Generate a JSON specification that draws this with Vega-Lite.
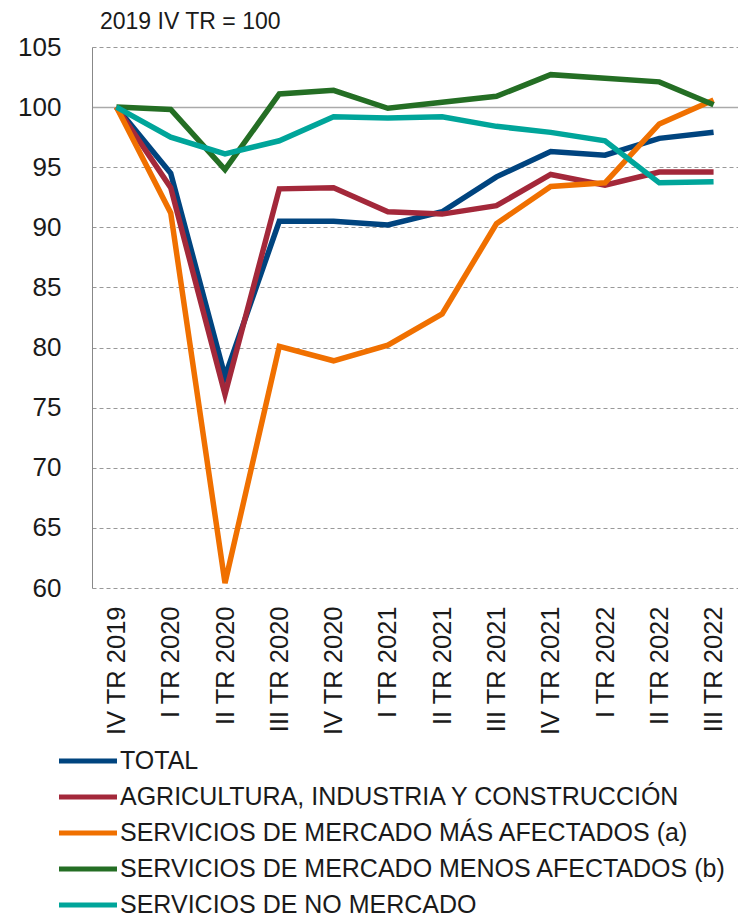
{
  "$schema": "https://vega.github.io/schema/vega-lite/v6.json",
  "autosize": "none",
  "width": 646,
  "height": 541,
  "padding": {"left": 92, "top": 47, "right": 0, "bottom": 327},
  "background": "white",
  "config": {
    "font": "Liberation Sans",
    "view": {"stroke": null}
  },
  "title": {
    "text": "2019 IV TR = 100",
    "anchor": "start",
    "frame": "group",
    "dx": 8,
    "offset": 0,
    "fontSize": 23,
    "fontWeight": "normal",
    "color": "#1a1a1a"
  },
  "data": {
    "values": [
      {"t": "IV TR 2019", "s": "TOTAL", "v": 100},
      {"t": "I TR 2020", "s": "TOTAL", "v": 94.5},
      {"t": "II TR 2020", "s": "TOTAL", "v": 77.6},
      {"t": "III TR 2020", "s": "TOTAL", "v": 90.5},
      {"t": "IV TR 2020", "s": "TOTAL", "v": 90.5},
      {"t": "I TR 2021", "s": "TOTAL", "v": 90.2},
      {"t": "II TR 2021", "s": "TOTAL", "v": 91.3},
      {"t": "III TR 2021", "s": "TOTAL", "v": 94.2},
      {"t": "IV TR 2021", "s": "TOTAL", "v": 96.3},
      {"t": "I TR 2022", "s": "TOTAL", "v": 96.0},
      {"t": "II TR 2022", "s": "TOTAL", "v": 97.4},
      {"t": "III TR 2022", "s": "TOTAL", "v": 97.9},

      {"t": "IV TR 2019", "s": "AGRICULTURA, INDUSTRIA Y CONSTRUCCIÓN", "v": 100},
      {"t": "I TR 2020", "s": "AGRICULTURA, INDUSTRIA Y CONSTRUCCIÓN", "v": 93.3},
      {"t": "II TR 2020", "s": "AGRICULTURA, INDUSTRIA Y CONSTRUCCIÓN", "v": 76.1},
      {"t": "III TR 2020", "s": "AGRICULTURA, INDUSTRIA Y CONSTRUCCIÓN", "v": 93.2},
      {"t": "IV TR 2020", "s": "AGRICULTURA, INDUSTRIA Y CONSTRUCCIÓN", "v": 93.3},
      {"t": "I TR 2021", "s": "AGRICULTURA, INDUSTRIA Y CONSTRUCCIÓN", "v": 91.3},
      {"t": "II TR 2021", "s": "AGRICULTURA, INDUSTRIA Y CONSTRUCCIÓN", "v": 91.1},
      {"t": "III TR 2021", "s": "AGRICULTURA, INDUSTRIA Y CONSTRUCCIÓN", "v": 91.8},
      {"t": "IV TR 2021", "s": "AGRICULTURA, INDUSTRIA Y CONSTRUCCIÓN", "v": 94.4},
      {"t": "I TR 2022", "s": "AGRICULTURA, INDUSTRIA Y CONSTRUCCIÓN", "v": 93.5},
      {"t": "II TR 2022", "s": "AGRICULTURA, INDUSTRIA Y CONSTRUCCIÓN", "v": 94.6},
      {"t": "III TR 2022", "s": "AGRICULTURA, INDUSTRIA Y CONSTRUCCIÓN", "v": 94.6},

      {"t": "IV TR 2019", "s": "SERVICIOS DE MERCADO MÁS AFECTADOS (a)", "v": 100},
      {"t": "I TR 2020", "s": "SERVICIOS DE MERCADO MÁS AFECTADOS (a)", "v": 91.2},
      {"t": "II TR 2020", "s": "SERVICIOS DE MERCADO MÁS AFECTADOS (a)", "v": 60.4},
      {"t": "III TR 2020", "s": "SERVICIOS DE MERCADO MÁS AFECTADOS (a)", "v": 80.1},
      {"t": "IV TR 2020", "s": "SERVICIOS DE MERCADO MÁS AFECTADOS (a)", "v": 78.9},
      {"t": "I TR 2021", "s": "SERVICIOS DE MERCADO MÁS AFECTADOS (a)", "v": 80.2},
      {"t": "II TR 2021", "s": "SERVICIOS DE MERCADO MÁS AFECTADOS (a)", "v": 82.8},
      {"t": "III TR 2021", "s": "SERVICIOS DE MERCADO MÁS AFECTADOS (a)", "v": 90.3},
      {"t": "IV TR 2021", "s": "SERVICIOS DE MERCADO MÁS AFECTADOS (a)", "v": 93.4},
      {"t": "I TR 2022", "s": "SERVICIOS DE MERCADO MÁS AFECTADOS (a)", "v": 93.7},
      {"t": "II TR 2022", "s": "SERVICIOS DE MERCADO MÁS AFECTADOS (a)", "v": 98.6},
      {"t": "III TR 2022", "s": "SERVICIOS DE MERCADO MÁS AFECTADOS (a)", "v": 100.6},

      {"t": "IV TR 2019", "s": "SERVICIOS DE MERCADO MENOS AFECTADOS (b)", "v": 100},
      {"t": "I TR 2020", "s": "SERVICIOS DE MERCADO MENOS AFECTADOS (b)", "v": 99.8},
      {"t": "II TR 2020", "s": "SERVICIOS DE MERCADO MENOS AFECTADOS (b)", "v": 94.8},
      {"t": "III TR 2020", "s": "SERVICIOS DE MERCADO MENOS AFECTADOS (b)", "v": 101.1},
      {"t": "IV TR 2020", "s": "SERVICIOS DE MERCADO MENOS AFECTADOS (b)", "v": 101.4},
      {"t": "I TR 2021", "s": "SERVICIOS DE MERCADO MENOS AFECTADOS (b)", "v": 99.9},
      {"t": "II TR 2021", "s": "SERVICIOS DE MERCADO MENOS AFECTADOS (b)", "v": 100.4},
      {"t": "III TR 2021", "s": "SERVICIOS DE MERCADO MENOS AFECTADOS (b)", "v": 100.9},
      {"t": "IV TR 2021", "s": "SERVICIOS DE MERCADO MENOS AFECTADOS (b)", "v": 102.7},
      {"t": "I TR 2022", "s": "SERVICIOS DE MERCADO MENOS AFECTADOS (b)", "v": 102.4},
      {"t": "II TR 2022", "s": "SERVICIOS DE MERCADO MENOS AFECTADOS (b)", "v": 102.1},
      {"t": "III TR 2022", "s": "SERVICIOS DE MERCADO MENOS AFECTADOS (b)", "v": 100.2},

      {"t": "IV TR 2019", "s": "SERVICIOS DE NO MERCADO", "v": 100},
      {"t": "I TR 2020", "s": "SERVICIOS DE NO MERCADO", "v": 97.5},
      {"t": "II TR 2020", "s": "SERVICIOS DE NO MERCADO", "v": 96.1},
      {"t": "III TR 2020", "s": "SERVICIOS DE NO MERCADO", "v": 97.2},
      {"t": "IV TR 2020", "s": "SERVICIOS DE NO MERCADO", "v": 99.2},
      {"t": "I TR 2021", "s": "SERVICIOS DE NO MERCADO", "v": 99.1},
      {"t": "II TR 2021", "s": "SERVICIOS DE NO MERCADO", "v": 99.2},
      {"t": "III TR 2021", "s": "SERVICIOS DE NO MERCADO", "v": 98.4},
      {"t": "IV TR 2021", "s": "SERVICIOS DE NO MERCADO", "v": 97.9},
      {"t": "I TR 2022", "s": "SERVICIOS DE NO MERCADO", "v": 97.2},
      {"t": "II TR 2022", "s": "SERVICIOS DE NO MERCADO", "v": 93.7},
      {"t": "III TR 2022", "s": "SERVICIOS DE NO MERCADO", "v": 93.8}
    ]
  },
  "mark": {"type": "line", "strokeWidth": 5.5, "strokeJoin": "miter", "strokeCap": "butt"},
  "encoding": {
    "x": {
      "field": "t",
      "type": "ordinal",
      "sort": null,
      "scale": {"type": "point", "padding": 0.45},
      "axis": {
        "title": null,
        "labelAngle": -90,
        "labelFontSize": 25.5,
        "labelColor": "#1a1a1a",
        "labelPadding": 18,
        "ticks": false,
        "domain": false,
        "grid": false
      }
    },
    "y": {
      "field": "v",
      "type": "quantitative",
      "scale": {"domain": [60, 105], "nice": false, "zero": false},
      "axis": {
        "title": null,
        "values": [60, 65, 70, 75, 80, 85, 90, 95, 100, 105],
        "labelFontSize": 26,
        "labelColor": "#1a1a1a",
        "labelPadding": 31,
        "ticks": false,
        "domain": true,
        "domainColor": "#888888",
        "domainWidth": 1,
        "grid": true,
        "gridColor": {"condition": {"test": "datum.value === 100", "value": "#aaaaaa"}, "value": "#999999"},
        "gridWidth": {"condition": {"test": "datum.value === 100", "value": 1.5}, "value": 1},
        "gridDash": {"condition": {"test": "datum.value === 100", "value": []}, "value": [4, 3]}
      }
    },
    "color": {
      "field": "s",
      "type": "nominal",
      "sort": null,
      "scale": {
        "domain": [
          "TOTAL",
          "AGRICULTURA, INDUSTRIA Y CONSTRUCCIÓN",
          "SERVICIOS DE MERCADO MÁS AFECTADOS (a)",
          "SERVICIOS DE MERCADO MENOS AFECTADOS (b)",
          "SERVICIOS DE NO MERCADO"
        ],
        "range": ["#00447f", "#a3283a", "#f07000", "#246e24", "#00a59a"]
      },
      "legend": {
        "title": null,
        "orient": "none",
        "legendX": -21,
        "legendY": 697,
        "symbolType": "M-2,0L2,0",
        "symbolSize": 841,
        "symbolStrokeWidth": 5,
        "labelFontSize": 25,
        "labelColor": "#1a1a1a",
        "labelOffset": 15,
        "labelLimit": 700,
        "rowPadding": 6
      }
    }
  }
}
